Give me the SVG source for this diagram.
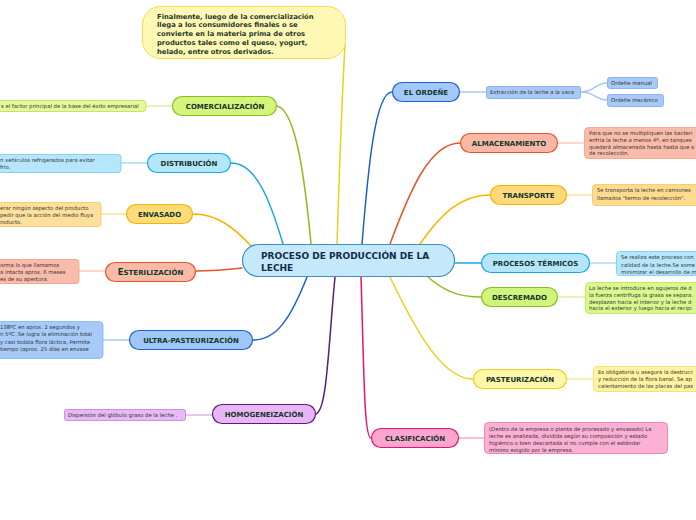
<svg xmlns="http://www.w3.org/2000/svg" width="696" height="520" viewBox="0 0 696 520">
<style>
.bg{fill:#ffffff}
.lbl{font-family:"DejaVu Sans",Verdana,sans-serif;font-weight:bold;font-size:7px;fill:#12372a;text-anchor:middle}
.leaf{font-family:"DejaVu Sans",Verdana,sans-serif;font-size:5.3px;fill:#333333}
.ct{font-family:"DejaVu Sans",Verdana,sans-serif;font-weight:bold;font-size:9px;fill:#142a4a}
.cl{font-family:"DejaVu Sans",Verdana,sans-serif;font-weight:bold;font-size:6.8px;fill:#1f3a2a}
.c{fill:none;stroke-width:1.5;stroke-linecap:round}
.l{fill:none;stroke-width:1.5}
</style>
<rect class="bg" x="0" y="0" width="696" height="520"/>
<g id="connectors">
<path class="c" stroke="#e9d21a" d="M337,244 C340,150 343,80 345,45"/>
<path class="c" stroke="#8cbd1e" d="M311,244 C305,180 296,110 277,106"/>
<path class="c" stroke="#1aa6e8" d="M283,244 C270,200 256,163 231,163"/>
<path class="c" stroke="#f8b400" d="M252,247 C232,225 215,214 193,214"/>
<path class="c" stroke="#e8532b" d="M242,268 C225,270 210,271 196,271"/>
<path class="c" stroke="#1e62d0" d="M307,277 C290,320 276,340 253,340"/>
<path class="c" stroke="#5c1a7a" d="M335,277 C328,350 327,414 315,414"/>
<path class="c" stroke="#1a5fd0" d="M362,244 C368,170 375,92 392,92"/>
<path class="c" stroke="#e8532b" d="M390,244 C410,190 430,143 460,143"/>
<path class="c" stroke="#f8b400" d="M420,244 C440,215 460,195 490,195"/>
<path class="c" stroke="#1aa6e8" d="M455,263 L481,263"/>
<path class="c" stroke="#8cbd1e" d="M428,277 C445,292 460,297 481,297"/>
<path class="c" stroke="#e9d21a" d="M390,277 C420,340 445,379 473,379"/>
<path class="c" stroke="#e8136c" d="M361,277 C364,370 364,438 371,438"/>
<path class="l" stroke="#d9f0a8" d="M146,106 L172,106"/>
<path class="l" stroke="#a9dcf4" d="M121,163 L147,163"/>
<path class="l" stroke="#fde0a0" d="M101,214 L126,214"/>
<path class="l" stroke="#fbcbbd" d="M79,271 L105,271"/>
<path class="l" stroke="#a8c8f4" d="M103,340 L129,340"/>
<path class="l" stroke="#dcb3e8" d="M185,415 L212,415"/>
<path class="l" stroke="#a8c8f4" d="M460,92 L486,92"/>
<path class="l" stroke="#a8c8f4" d="M581,92 C595,92 595,83 607,83"/>
<path class="l" stroke="#a8c8f4" d="M581,92 C595,92 595,100 607,100"/>
<path class="l" stroke="#fbcbbd" d="M558,143 L584,143"/>
<path class="l" stroke="#fde0a0" d="M567,195 L592,195"/>
<path class="l" stroke="#a9dcf4" d="M590,263 L616,263"/>
<path class="l" stroke="#d9f0a8" d="M558,297 L585,297"/>
<path class="l" stroke="#f5eb9c" d="M567,379 L593,379"/>
<path class="l" stroke="#f8a8cc" d="M459,438 L484,438"/>
</g>
<g id="center">
<rect x="242.5" y="244.5" width="212" height="32" rx="16" fill="#c5e9fb" stroke="#3a8fd0" stroke-width="1.2"/>
<text class="ct" x="261" y="259">PROCESO DE PRODUCCIÓN DE LA</text>
<text class="ct" x="261" y="270.5">LECHE</text>
</g>
<g id="callout">
<rect x="142.5" y="6.5" width="203" height="52" rx="18" fill="#fff8b5" stroke="#f0dc50" stroke-width="1"/>
<text class="cl" x="157" y="18.5">Finalmente, luego de la comercialización</text>
<text class="cl" x="157" y="27">llega a los consumidores finales o se</text>
<text class="cl" x="157" y="36">convierte en la materia prima de otros</text>
<text class="cl" x="157" y="45">productos tales como el queso, yogurt,</text>
<text class="cl" x="157" y="53.5">helado, entre otros derivados.</text>
</g>
<g id="comercializacion">
<rect x="172.5" y="96.5" width="104" height="19" rx="9.5" fill="#d4f47c" stroke="#8cbd1e" stroke-width="1.2"/>
<text class="lbl" x="225" y="108.5">COMERCIALIZACIÓN</text>
<rect x="-60" y="100.5" width="206" height="11" rx="3" fill="#e4f99a" stroke="#b8df4f" stroke-width="0.8"/>
<text class="leaf" x="1" y="107.8">s el factor principal de la base del éxito empresarial</text>
</g>
<g id="distribucion">
<rect x="147.5" y="153.5" width="83" height="19" rx="9.5" fill="#b3e5fb" stroke="#1aa6e8" stroke-width="1.2"/>
<text class="lbl" x="189" y="165.5">DISTRIBUCIÓN</text>
<rect x="-60" y="154.5" width="181" height="18" rx="3" fill="#b5e6fb" stroke="#6ccaf2" stroke-width="0.8"/>
<text class="leaf" x="0" y="161.5">n vehículos refrigerados para evitar</text>
<text class="leaf" x="0" y="168.5">frío.</text>
</g>
<g id="envasado">
<rect x="126.5" y="204.5" width="66" height="19" rx="9.5" fill="#ffdb7a" stroke="#f5b400" stroke-width="1.2"/>
<text class="lbl" x="159.5" y="216.5">ENVASADO</text>
<rect x="-60" y="202.5" width="161" height="24" rx="3" fill="#fee09b" stroke="#f6c758" stroke-width="0.8"/>
<text class="leaf" x="0" y="209.5">erar ningún aspecto del producto</text>
<text class="leaf" x="0" y="216.5">pedir que la acción del medio fluya</text>
<text class="leaf" x="0" y="223.5">roducto.</text>
</g>
<g id="esterilizacion">
<rect x="105.5" y="262.5" width="90" height="19" rx="9.5" fill="#f9bba8" stroke="#e8532b" stroke-width="1.2"/>
<text class="lbl" x="150.5" y="274.5"><tspan font-size="8.5">E</tspan>STERILIZACIÓN</text>
<rect x="-60" y="259.5" width="139" height="24" rx="3" fill="#fabcaa" stroke="#f59a80" stroke-width="0.8"/>
<text class="leaf" x="0" y="266.5">orma lo que llamamos</text>
<text class="leaf" x="0" y="273.5">a intacta aprox. 6 meses</text>
<text class="leaf" x="0" y="280.5">es de su apertura.</text>
</g>
<g id="ultrapasteurizacion">
<rect x="129.5" y="330.5" width="123" height="19" rx="9.5" fill="#9fc8f8" stroke="#1e62d0" stroke-width="1.2"/>
<text class="lbl" x="191" y="342.5">ULTRA-PASTEURIZACIÓN</text>
<rect x="-60" y="321.5" width="163" height="37" rx="4" fill="#a6cbf9" stroke="#7fb2f3" stroke-width="0.8"/>
<text class="leaf" x="0" y="328.5">138ºC en aprox. 2 segundos y</text>
<text class="leaf" x="0" y="336">n 5ºC .Se logra la eliminación total</text>
<text class="leaf" x="0" y="343.5"> y casi todala flora láctica, Permite</text>
<text class="leaf" x="0" y="351">tiempo (aprox. 25 días en envase</text>
</g>
<g id="homogeneizacion">
<rect x="212.5" y="404.5" width="103" height="19" rx="9.5" fill="#e8b6f5" stroke="#5c1a7a" stroke-width="1.2"/>
<text class="lbl" x="264" y="416.5">HOMOGENEIZACIÓN</text>
<rect x="64.5" y="409.5" width="121" height="11" rx="2" fill="#e8b9f5" stroke="#c07ed9" stroke-width="0.8"/>
<text class="leaf" x="68" y="416.5">Dispersión del glób<tspan dy="0.8">ulo graso de la leche .</tspan></text>
</g>
<g id="ordene">
<rect x="392.5" y="82.5" width="67" height="19" rx="9.5" fill="#a3c8fa" stroke="#1a5fd0" stroke-width="1.2"/>
<text class="lbl" x="426" y="94.5">EL ORDEÑE</text>
<rect x="486.5" y="86.5" width="94" height="12" rx="2" fill="#a8c8f8" stroke="#7aa8ef" stroke-width="0.8"/>
<text class="leaf" x="490" y="94.2">Extracción de la leche a la vaca</text>
<rect x="607.5" y="77.5" width="50" height="11" rx="2" fill="#a8c8f8" stroke="#7aa8ef" stroke-width="0.8"/>
<text class="leaf" x="611" y="84.8">Ordeñe manual</text>
<rect x="607.5" y="94.5" width="56" height="12" rx="2" fill="#a8c8f8" stroke="#7aa8ef" stroke-width="0.8"/>
<text class="leaf" x="611" y="102.3">Ordeñe mecánico</text>
</g>
<g id="almacenamiento">
<rect x="460.5" y="133.5" width="97" height="19" rx="9.5" fill="#f8b8a5" stroke="#e8532b" stroke-width="1.2"/>
<text class="lbl" x="509" y="145.5">ALMACENAMIENTO</text>
<rect x="584.5" y="127.5" width="160" height="31" rx="4" fill="#fabcaa" stroke="#f59a80" stroke-width="0.8"/>
<text class="leaf" x="589" y="135">Para que no se multipliquen las bacteri</text>
<text class="leaf" x="589" y="141.5">enfría la leche a menos 4º, en tanques</text>
<text class="leaf" x="589" y="148.5">quedará almacenada hasta hasta que s</text>
<text class="leaf" x="589" y="155">de recolección.</text>
</g>
<g id="transporte">
<rect x="490.5" y="185.5" width="76" height="19" rx="9.5" fill="#ffd97a" stroke="#f5b400" stroke-width="1.2"/>
<text class="lbl" x="528.5" y="197.5">TRANSPORTE</text>
<rect x="592.5" y="184.5" width="150" height="21" rx="3" fill="#fedb8f" stroke="#f6c758" stroke-width="0.8"/>
<text class="leaf" x="597" y="192">Se transporta la leche en camiones</text>
<text class="leaf" x="597" y="199.5">llamados "termo de recolección".</text>
</g>
<g id="procesos_termicos">
<rect x="481.5" y="253.5" width="108" height="19" rx="9.5" fill="#b3e5fb" stroke="#1aa6e8" stroke-width="1.2"/>
<text class="lbl" x="535.5" y="265.5">PROCESOS TÉRMICOS</text>
<rect x="616.5" y="251.5" width="140" height="24" rx="3" fill="#b5e6fb" stroke="#6ccaf2" stroke-width="0.8"/>
<text class="leaf" x="621" y="259">Se realiza este proceso con</text>
<text class="leaf" x="621" y="266.5">calidad de la leche.Se some</text>
<text class="leaf" x="621" y="273.5">minimizar el desarrollo de m</text>
</g>
<g id="descremado">
<rect x="481.5" y="287.5" width="76" height="19" rx="9.5" fill="#d0f57a" stroke="#8cbd1e" stroke-width="1.2"/>
<text class="lbl" x="519.5" y="299.5">DESCREMADO</text>
<rect x="585.5" y="282.5" width="160" height="31" rx="4" fill="#dbf88f" stroke="#b8df4f" stroke-width="0.8"/>
<text class="leaf" x="589" y="289.5">La leche se introduce en agujeros de d</text>
<text class="leaf" x="589" y="296.5">la fuerza centrífuga la grasa se separa.</text>
<text class="leaf" x="589" y="303.5">desplazan hacia el interior y la leche d</text>
<text class="leaf" x="589" y="310">hacia el exterior y luego hacia el recipi</text>
</g>
<g id="pasteurizacion">
<rect x="473.5" y="369.5" width="93" height="19" rx="9.5" fill="#fff6a8" stroke="#e9d21a" stroke-width="1.2"/>
<text class="lbl" x="520" y="381.5">PASTEURIZACIÓN</text>
<rect x="593.5" y="366.5" width="150" height="25" rx="4" fill="#fff3a0" stroke="#f0de60" stroke-width="0.8"/>
<text class="leaf" x="598" y="373.5">Es obligatoria u asegura la destrucc</text>
<text class="leaf" x="598" y="381">y reducción de la flora banal. Se ap</text>
<text class="leaf" x="598" y="388">calentamiento de las placas del pas</text>
</g>
<g id="clasificacion">
<rect x="371.5" y="428.5" width="87" height="19" rx="9.5" fill="#fca6cf" stroke="#e8136c" stroke-width="1.2"/>
<text class="lbl" x="415" y="440.5">CLASIFICACIÓN</text>
<rect x="484.5" y="422.5" width="183" height="31" rx="4" fill="#fcb0d4" stroke="#f070a8" stroke-width="0.8"/>
<text class="leaf" x="489" y="430.5">(Dentro de la empresa o planta de procesado y envasado) La</text>
<text class="leaf" x="489" y="437.5">leche es analizada, dividida según su composición y estado</text>
<text class="leaf" x="489" y="444.5">higiénico o bien descartada si no cumple con el estándar</text>
<text class="leaf" x="489" y="451.5">mínimo exigido por la empresa.</text>
</g>
</svg>
